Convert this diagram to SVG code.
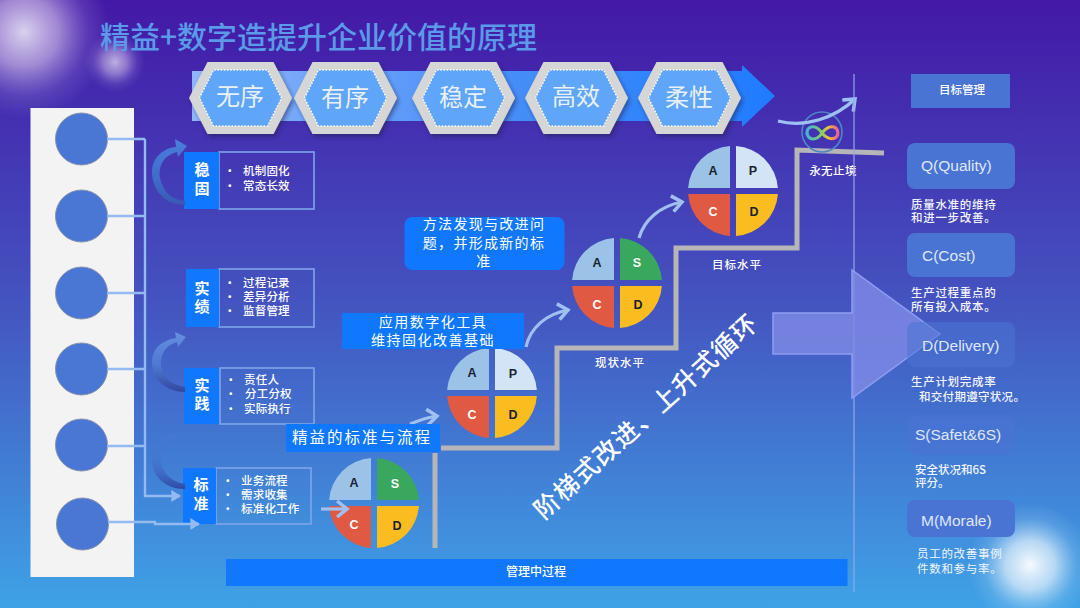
<svg xmlns="http://www.w3.org/2000/svg" width="1080" height="608" viewBox="0 0 1080 608">
<style>
text{font-family:"Noto Sans CJK SC","Liberation Sans",sans-serif;fill:#fff}
.small{font-size:11.5px;font-weight:500;letter-spacing:.2px}
.mid{text-anchor:middle}
.big{font-size:15px;font-weight:700;text-anchor:middle}
.lbl{font-size:11.5px;font-weight:500;letter-spacing:1px;text-anchor:middle}
.desc{font-size:11.5px;font-weight:500;letter-spacing:.7px;fill:#f2f5ff}
.hex{font-size:24px;text-anchor:middle;fill:#eaf0fa}
.kpi{font-family:"Liberation Sans","Noto Sans CJK SC",sans-serif;font-size:15.5px;fill:#dfe6fa}
.bl{fill:#0f78ff}
.out{fill:none;stroke:#7fa6ea;stroke-width:1.6}
.circ{fill:#4a76d4;stroke:#8a93ad;stroke-width:1}
.con{fill:none;stroke:#93bbf2;stroke-width:2.400}
.stair{fill:none;stroke:#b6b6b8;stroke-width:5}
.kbox{fill:#4a74d4}
.qa{fill:#9bc3e8}.qp{fill:#d2e4f6}.qs{fill:#39a85e}.qc{fill:#e05a43}.qd{fill:#fbbc1f}
.ql{font-family:"Liberation Sans",sans-serif;font-size:12.5px;font-weight:700;text-anchor:middle;fill:#1a2233}
.curve{fill:none;stroke:#9fc0f2;stroke-width:3.2}
</style>
<defs>
<linearGradient id="bg" x1="0" y1="0" x2="0" y2="1"><stop offset="0" stop-color="#4318a6"/><stop offset=".5" stop-color="#4454c0"/><stop offset="1" stop-color="#3fa2e6"/></linearGradient>
<linearGradient id="band" x1="0" y1="0" x2="1" y2="0"><stop offset="0" stop-color="#8fb6fb"/><stop offset=".5" stop-color="#4a90f8"/><stop offset="1" stop-color="#1f7bff"/></linearGradient>
<linearGradient id="ca1" x1="0" y1="0" x2="0" y2="1"><stop offset="0" stop-color="#4c7edc"/><stop offset=".6" stop-color="#3f6ccb"/><stop offset="1" stop-color="#3a58b4"/></linearGradient>
<linearGradient id="ca2" x1="0" y1="0" x2="0" y2="1"><stop offset="0" stop-color="#658fe0"/><stop offset=".55" stop-color="#4f79d2"/><stop offset="1" stop-color="#33479f"/></linearGradient>
<linearGradient id="ca3" x1="0" y1="0" x2="0" y2="1"><stop offset="0" stop-color="#4f7bd0" stop-opacity=".3"/><stop offset=".5" stop-color="#4570c8" stop-opacity=".4"/><stop offset="1" stop-color="#2f49a4"/></linearGradient>
<linearGradient id="inf" x1="0" y1="0" x2="1" y2="0"><stop offset="0" stop-color="#3fb4d8"/><stop offset=".45" stop-color="#7fd06a"/><stop offset=".7" stop-color="#f4c030"/><stop offset="1" stop-color="#e8609a"/></linearGradient>
<radialGradient id="glow"><stop offset="0" stop-color="#fff" stop-opacity=".8"/><stop offset=".4" stop-color="#ecdff5" stop-opacity=".55"/><stop offset=".75" stop-color="#c8b8ee" stop-opacity=".16"/><stop offset="1" stop-color="#c8b8ee" stop-opacity="0"/></radialGradient>
<radialGradient id="glow2"><stop offset="0" stop-color="#fff" stop-opacity=".95"/><stop offset=".4" stop-color="#e8f4fc" stop-opacity=".7"/><stop offset=".75" stop-color="#bfe0f8" stop-opacity=".18"/><stop offset="1" stop-color="#bfe0f8" stop-opacity="0"/></radialGradient>
<filter id="sh" x="-10%" y="-10%" width="120%" height="125%"><feDropShadow dx="2" dy="3" stdDeviation="2" flood-color="#1a1a50" flood-opacity=".5"/></filter>
<marker id="ah" markerWidth="5" markerHeight="5" refX="3.6" refY="2.5" orient="auto"><path d="M0,0L4,2.5L0,5Z" fill="#93bbf2"/></marker>
<marker id="ac" markerWidth="5" markerHeight="6" refX="3.6" refY="3" orient="auto"><path d="M.5,.5L3.6,3L.5,5.500" fill="none" stroke="#9fc0f2" stroke-width="1.100"/></marker>
<g id="hexShape" filter="url(#sh)">
<polygon points="-51.5,0 -33,-36 33,-36 51.5,0 33,36 -33,36" fill="#d6d6d6"/>
<polygon points="-41,0 -27,-28 27,-28 41,0 27,28 -27,28" fill="#5fa6fb" stroke="#fff" stroke-width="1.400" stroke-dasharray="1.400 1.800"/>
</g>
<path id="q1" d="M-3,-44.9A45,45 0 0 0 -44.9,-3H-3Z"/>
<path id="q2" d="M3,-44.9A45,45 0 0 1 44.9,-3H3Z"/>
<path id="q3" d="M-3,44.9A45,45 0 0 1 -44.9,3H-3Z"/>
<path id="q4" d="M3,44.9A45,45 0 0 0 44.9,3H3Z"/>
</defs>
<rect width="1080" height="608" fill="url(#bg)"/>
<circle cx="24" cy="32" r="86" fill="url(#glow)"/>
<circle cx="115" cy="62" r="30" fill="url(#glow)" opacity=".8"/>
<circle cx="1030" cy="565" r="62" fill="url(#glow2)"/>
<text id="title" x="100" y="48" font-size="30" font-weight="500" style="fill:#5a9ae8">精益+数字造提升企业价值的原理</text>

<g id="banner">
<polygon points="192,71 742,71 742,65 775,96 742,127 742,121 192,121" fill="url(#band)"/>
</g>
<g id="hex1"><use href="#hexShape" x="240.5" y="98"/><text class="hex" x="240" y="105">无序</text></g>
<g id="hex2"><use href="#hexShape" x="345.5" y="98"/><text class="hex" x="345" y="106">有序</text></g>
<g id="hex3"><use href="#hexShape" x="463.5" y="98"/><text class="hex" x="463" y="106">稳定</text></g>
<g id="hex4"><use href="#hexShape" x="576.5" y="98"/><text class="hex" x="576" y="105">高效</text></g>
<g id="hex5"><use href="#hexShape" x="689.5" y="98"/><text class="hex" x="689" y="106">柔性</text></g>

<rect id="panel" x="30.5" y="108" width="103.500" height="469" fill="#f3f3f3"/>
<g id="circle1"><circle class="circ" cx="81.500" cy="139" r="26"/></g>
<g id="circle2"><circle class="circ" cx="81.500" cy="216" r="26"/></g>
<g id="circle3"><circle class="circ" cx="81.500" cy="293" r="26"/></g>
<g id="circle4"><circle class="circ" cx="81.500" cy="369" r="26"/></g>
<g id="circle5"><circle class="circ" cx="81.500" cy="445" r="26"/></g>
<g id="circle6"><circle class="circ" cx="82.500" cy="524" r="26"/></g>

<g id="stairs">
<path class="stair" d="M435,453V548"/>
<path class="stair" d="M441,448H557V348H676V248H797V150L884,153"/>
</g>

<g id="box-wengu"><rect class="out" x="219" y="152" width="95" height="57"/><rect class="bl" x="184" y="152" width="35" height="57"/>
<text class="big" x="202" y="175">稳</text><text class="big" x="202" y="194">固</text>
<text class="small" x="224" y="175">•</text><text class="small" x="243" y="175">机制固化</text>
<text class="small" x="224" y="190">•</text><text class="small" x="243" y="190">常态长效</text></g>
<g id="box-shiji"><rect class="out" x="219" y="269" width="95" height="58"/><rect class="bl" x="186" y="269" width="33" height="58"/>
<text class="big" x="202" y="294">实</text><text class="big" x="202" y="312">绩</text>
<text class="small" x="224" y="287">•</text><text class="small" x="243" y="287">过程记录</text>
<text class="small" x="224" y="301">•</text><text class="small" x="243" y="301">差异分析</text>
<text class="small" x="224" y="315">•</text><text class="small" x="243" y="315">监督管理</text></g>
<g id="box-shijian"><rect class="out" x="220" y="368" width="94" height="56"/><rect class="bl" x="184" y="368" width="35" height="56"/>
<text class="big" x="202" y="391">实</text><text class="big" x="202" y="409">践</text>
<text class="small" x="225" y="384">•</text><text class="small" x="244" y="384">责任人</text>
<text class="small" x="225" y="398">•</text><text class="small" x="245" y="398">分工分权</text>
<text class="small" x="225" y="413">•</text><text class="small" x="244" y="413">实际执行</text></g>
<g id="box-biaozhun"><rect class="out" x="216" y="468" width="95" height="56"/><rect class="bl" x="183" y="468" width="33" height="56"/>
<text class="big" x="201" y="490">标</text><text class="big" x="201" y="509">准</text>
<text class="small" x="222" y="485">•</text><text class="small" x="241" y="485">业务流程</text>
<text class="small" x="222" y="499">•</text><text class="small" x="241" y="499">需求收集</text>
<text class="small" x="222" y="513">•</text><text class="small" x="241" y="513">标准化工作</text></g>

<g id="pdca1" transform="translate(374,503)"><use href="#q1" class="qa"/><use href="#q2" class="qs"/><use href="#q3" class="qc"/><use href="#q4" class="qd"/>
<text class="ql" x="-20" y="-16">A</text><text class="ql" style="fill:#fff" x="21" y="-15">S</text><text class="ql" style="fill:#fff" x="-20" y="26">C</text><text class="ql" x="23" y="27">D</text></g>
<g id="pdca2" transform="translate(492,393)"><use href="#q1" class="qa"/><use href="#q2" class="qp"/><use href="#q3" class="qc"/><use href="#q4" class="qd"/>
<text class="ql" x="-20" y="-16">A</text><text class="ql" x="21" y="-15">P</text><text class="ql" style="fill:#fff" x="-20" y="26">C</text><text class="ql" x="21" y="26">D</text></g>
<g id="pdca3" transform="translate(617,283)"><use href="#q1" class="qa"/><use href="#q2" class="qs"/><use href="#q3" class="qc"/><use href="#q4" class="qd"/>
<text class="ql" x="-20" y="-16">A</text><text class="ql" style="fill:#fff" x="20" y="-16">S</text><text class="ql" style="fill:#fff" x="-20" y="26">C</text><text class="ql" x="21" y="26">D</text></g>
<g id="pdca4" transform="translate(733,191)"><use href="#q1" class="qa"/><use href="#q2" class="qp"/><use href="#q3" class="qc"/><use href="#q4" class="qd"/>
<text class="ql" x="-20" y="-16">A</text><text class="ql" x="20" y="-16">P</text><text class="ql" style="fill:#fff" x="-20" y="25">C</text><text class="ql" x="21" y="25">D</text></g>

<g id="infinity">
<circle cx="822" cy="132" r="20" fill="none" stroke="#4f86c6" stroke-width="1.600"/>
<path d="M822,133C817,126 811,125 808,129C805,134 809,139 813,139C817,139 820,136 822,133C825,129 829,126 834,127C839,129 839,136 835,138C830,140 825,137 822,133Z" fill="none" stroke="url(#inf)" stroke-width="3"/>
</g>

<g id="connectors">
<path class="con" d="M107,139H145M107,216H145M107,293H145M107,369H145M107,446H145"/>
<path class="con" marker-end="url(#ah)" d="M145,139V496H180"/>
<path class="con" marker-end="url(#ah)" d="M108,522H155V524H199"/>
<path d="M185,205C165,205 152,190 152,172C152,158 163,148 176,147L175,139L187,146L178,157L177,152C165,155 158,165 160,178C163,192 172,200 185,201Z" fill="url(#ca1)"/>
<path d="M185,392C165,392 152,378 152,362C152,348 163,340 176,338L175,332L186,337L178,347L177,342C166,345 160,354 161,366C163,378 172,385 185,387Z" fill="url(#ca2)"/>
<path d="M185,489C165,489 152,476 152,460C152,446 163,436 176,434L177,438C166,441 160,449 161,462C163,474 172,482 185,484Z" fill="url(#ca3)"/>
<path class="curve" marker-end="url(#ac)" d="M321,509H347"/>
<path class="curve" marker-end="url(#ac)" d="M410,424C420,420 428,417 437,416"/>
<path class="curve" marker-end="url(#ac)" d="M526,347C530,328 546,314 568,310"/>
<path class="curve" marker-end="url(#ac)" d="M639,238C644,220 660,206 682,202"/>
<path class="curve" marker-end="url(#ac)" d="M778,121C805,128 835,118 855,99"/>
</g>

<g id="label-lean"><rect class="bl" x="286" y="424" width="154" height="28"/><text class="mid" x="362" y="443" font-size="15.500" letter-spacing="2">精益的标准与流程</text></g>
<g id="label-digital"><rect class="bl" x="342" y="313" width="182" height="36"/><text class="mid" x="433" y="327" font-size="14" letter-spacing="1.500">应用数字化工具</text><text class="mid" x="433" y="345" font-size="14" letter-spacing="1.500">维持固化改善基础</text></g>
<g id="label-method"><rect class="bl" x="404.500" y="217" width="160" height="53" rx="8"/><text class="mid" x="484" y="229" font-size="14" letter-spacing="1.300">方法发现与改进问</text><text class="mid" x="484" y="248" font-size="14" letter-spacing="1.300">题，并形成新的标</text><text class="mid" x="484" y="266" font-size="14" letter-spacing="1.300">准</text></g>

<text id="level2" class="lbl" x="620" y="367">现状水平</text>
<text id="level3" class="lbl" x="737" y="269">目标水平</text>
<text id="forever" class="lbl" x="833" y="175" style="letter-spacing:.4px">永无止境</text>

<path id="divider" d="M854,74V592" stroke="#90a8ee" stroke-width="1.200" fill="none"/>

<polygon id="bigArrow" points="773,313 852,313 852,270 940,334 852,398 852,354 773,354" fill="#7f8ae4" fill-opacity=".82" stroke="#8f9df2" stroke-width="1.500"/>

<text id="diagonal" class="mid" transform="translate(652,423) rotate(-42)" font-size="25" font-weight="500" letter-spacing="1.500">阶梯式改进、上升式循环</text>

<g id="bar"><rect class="bl" x="226" y="559" width="621.500" height="27"/><text class="mid" x="536" y="576" font-size="12" font-weight="500">管理中过程</text></g>

<g id="kpi-head"><rect class="kbox" x="911" y="74" width="99" height="34"/><text class="mid" x="962" y="94" font-size="11.500" font-weight="500">目标管理</text></g>
<g id="kpi-q"><rect class="kbox" x="907" y="143" width="108" height="46" rx="8"/><text class="kpi" x="921" y="171">Q(Quality)</text></g>
<g id="kpi-c"><rect class="kbox" x="907" y="233" width="108" height="44" rx="8"/><text class="kpi" x="922" y="261">C(Cost)</text></g>
<g id="kpi-d"><rect class="kbox" x="907" y="322" width="108" height="45" rx="8" opacity=".55"/><text class="kpi" x="922" y="351">D(Delivery)</text></g>
<g id="kpi-s"><rect class="kbox" x="908" y="415" width="106" height="40" rx="8" opacity=".7"/><text class="kpi" x="915" y="440">S(Safet&amp;6S)</text></g>
<g id="kpi-m"><rect class="kbox" x="907" y="500" width="108" height="37" rx="8"/><text class="kpi" x="921" y="526">M(Morale)</text></g>

<text class="desc" x="911" y="209">质量水准的维持</text><text class="desc" x="911" y="222">和进一步改善。</text>
<text class="desc" x="911" y="297">生产过程重点的</text><text class="desc" x="911" y="311">所有投入成本。</text>
<text class="desc" x="911" y="386">生产计划完成率</text><text class="desc" x="919" y="401" style="letter-spacing:.3px">和交付期遵守状况。</text>
<text class="desc" x="915" y="474" style="letter-spacing:0">安全状况和6S</text><text class="desc" x="915" y="487" style="letter-spacing:0">评分。</text>
<text class="desc" x="917" y="558" style="font-weight:400">员工的改善事例</text><text class="desc" x="917" y="573" style="font-weight:400">件数和参与率。</text>
</svg>
